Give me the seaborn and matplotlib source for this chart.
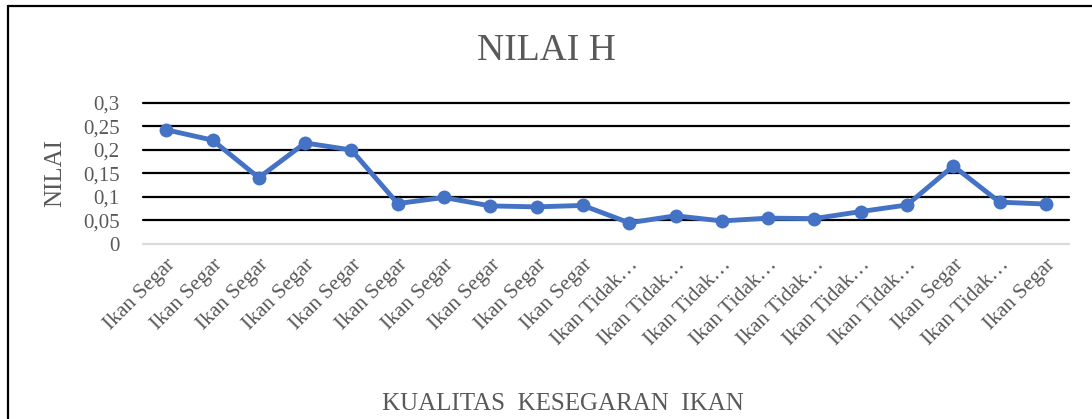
import numpy as np
import pandas as pd
import seaborn as sns
import matplotlib.pyplot as plt
from matplotlib.lines import Line2D

# Data
labels = ["Ikan Segar"] * 10 + ["Ikan Tidak…"] * 7 + ["Ikan Segar", "Ikan Tidak…", "Ikan Segar"]
nilai = [0.243, 0.221, 0.141, 0.215, 0.200, 0.086, 0.099, 0.081, 0.079, 0.082,
         0.045, 0.060, 0.049, 0.055, 0.054, 0.069, 0.083, 0.166, 0.089, 0.085]
yticks = [0, 0.05, 0.1, 0.15, 0.2, 0.25, 0.3]
ytick_labels = ["0", "0,05", "0,1", "0,15", "0,2", "0,25", "0,3"]

df = pd.DataFrame({"pos": np.arange(len(nilai)), "nilai": nilai})

sns.set_theme(style="white")
plt.rcParams["font.family"] = ["Liberation Serif", "DejaVu Serif"]
gray = "#595959"

fig = plt.figure(figsize=(10.92, 4.19), dpi=100)
ax = fig.add_axes([0.131, 0.4177, 0.848, 0.3365])

sns.lineplot(data=df, x="pos", y="nilai", ax=ax, color="#4472C4",
             linewidth=3.5, marker="o", markersize=10, markeredgewidth=0,
             zorder=5)

ax.set_ylim(0, 0.3)
ax.set_xlim(-0.5, len(nilai) - 0.5)
ax.set_yticks(yticks)
ax.set_yticklabels(ytick_labels, color=gray, fontsize=15)
ax.set_xticks(df["pos"])
ax.set_xticklabels(labels, rotation=45, ha="right", rotation_mode="anchor",
                   color=gray, fontsize=15.5)
ax.tick_params(axis="y", length=0, pad=17)
ax.tick_params(axis="x", length=0, pad=8)

# gridlines: black, zero line light gray
for y in yticks[1:]:
    ax.axhline(y, color="black", linewidth=1.6, zorder=1, clip_on=False)
ax.axhline(0, color="#D9D9D9", linewidth=1.6, zorder=1, clip_on=False)
for s in ax.spines.values():
    s.set_visible(False)

ax.set_xlabel("")
ax.set_ylabel("NILAI", color=gray, fontsize=18, labelpad=12)

fig.text(0.5, 0.88, "NILAI H", ha="center", va="center", color=gray, fontsize=27)
fig.text(0.515, 0.035, "KUALITAS  KESEGARAN  IKAN", ha="center", va="center",
         color=gray, fontsize=18)

# chart frame (top and left edges visible)
fig.add_artist(Line2D([0.0075, 1.0], [0.986, 0.986], transform=fig.transFigure,
                      color="black", linewidth=1.6))
fig.add_artist(Line2D([0.0075, 0.0075], [0.0, 0.986], transform=fig.transFigure,
                      color="black", linewidth=1.6))

fig.savefig("out.png", dpi=100, facecolor="white")
